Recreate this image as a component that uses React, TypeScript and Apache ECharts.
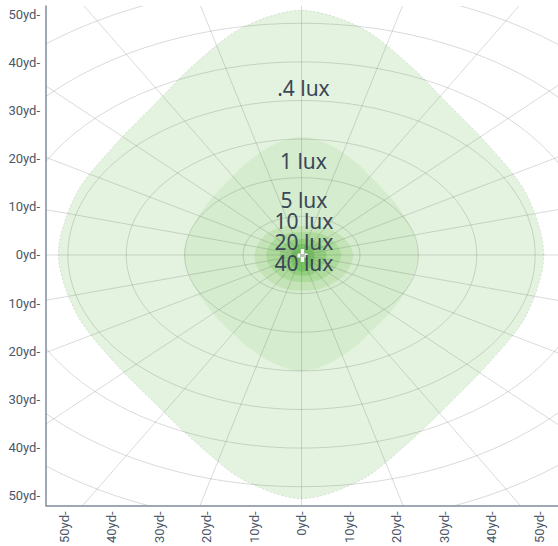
import React, { useEffect, useRef } from "react";
import * as echarts from "echarts";

// Axis ticks (yards)
const xTickValues = [-50, -40, -30, -20, -10, 0, 10, 20, 30, 40, 50];
const yTickValues = [-50, -40, -30, -20, -10, 0, 10, 20, 30, 40, 50];

// Illuminance levels
const levelNames = [".4 lux", "1 lux", "5 lux", "10 lux", "20 lux", "40 lux"];
const levelColors = ["#e4f3df", "#d5ecce", "#c4e4b8", "#addb9c", "#93cf7e", "#79c462"];

// Contour outlines: radius (yd) at each direction (degrees, counter-clockwise from +x)
const contourAngles = [0, 15, 30, 45, 60, 75, 90, 105, 120, 135, 150, 165, 180, 195, 210, 225, 240, 255, 270, 285, 300, 315, 330, 345];
const radiiPoint4Lux = [51, 49, 45.5, 44, 45.5, 48.8, 50.8, 48.8, 45.5, 44, 45.5, 49.1, 51.2, 48.8, 45.2, 43.6, 44.8, 48.2, 50.6, 48.4, 45, 43.8, 45.3, 48.9];
const radii1Lux = [24.6, 23.6, 22.4, 21.8, 22.4, 23.6, 24.5, 23.6, 22.4, 21.8, 22.4, 23.6, 24.8, 23.6, 22.4, 21.8, 22.2, 23.2, 24.1, 23.2, 22.2, 21.6, 22.3, 23.5];
const radii5Lux = [10.9, 10.1, 8.9, 7.9, 7.0, 6.3, 6.0, 6.3, 6.9, 7.6, 8.6, 9.4, 9.9, 9.7, 9.0, 8.4, 7.9, 7.6, 7.4, 7.6, 8.1, 8.7, 9.6, 10.4];
const radii10Lux = [8.4, 7.8, 6.9, 6.1, 5.4, 4.9, 4.7, 4.9, 5.3, 5.8, 6.5, 7.1, 7.4, 7.2, 6.7, 6.3, 5.9, 5.7, 5.6, 5.8, 6.2, 6.7, 7.3, 7.9];
const radii20Lux = [5.3, 5.0, 4.6, 4.1, 3.7, 3.4, 3.3, 3.4, 3.6, 3.9, 4.3, 4.5, 4.6, 4.6, 4.4, 4.3, 4.3, 4.3, 4.3, 4.4, 4.6, 4.7, 4.9, 5.1];
const radii40Lux = [2.7, 2.7, 2.6, 2.5, 2.4, 2.35, 2.3, 2.3, 2.25, 2.2, 2.15, 2.1, 2.1, 2.2, 2.4, 2.7, 3.0, 3.3, 3.5, 3.4, 3.2, 3.0, 2.9, 2.8];
const contourRadii = [radiiPoint4Lux, radii1Lux, radii5Lux, radii10Lux, radii20Lux, radii40Lux];

// Label blocks: which levels each block lists, and the block's centre (yd)
const labelGroups = [[0], [1], [2, 3, 4, 5]];
const labelGroupX = [0.4, 0.4, 0.5];
const labelGroupY = [34.6, 19.6, 4.8];

// Fixture position
const fixtureX = [0.2];
const fixtureY = [-0.1];

// Perspective reference grid
const ringStepX = 12.3;
const ringStepY = 8.02;
const ringCount = 9;
const spokeCount = 24;

const TEXT = "#3a4658";
const AXIS_TEXT = "#4c5869";
const AXIS_LINE = "#7f8c9b";

export default function App() {
  const ref = useRef<HTMLDivElement>(null);

  useEffect(() => {
    if (!ref.current) return;
    const chart = echarts.init(ref.current, undefined, { renderer: "svg" });

    const fmt = (v: number) => `${Math.abs(Math.round(v))}yd-`;

    const option: any = {
      animation: false,
      grid: { left: 46, right: 0, top: 6, bottom: 36, containLabel: false },
      xAxis: {
        type: "value",
        min: -53.8,
        max: 54,
        splitLine: { show: false },
        axisTick: { show: false },
        axisLine: { show: true, onZero: false, lineStyle: { color: AXIS_LINE, width: 1.5 } },
        axisLabel: {
          customValues: xTickValues,
          formatter: fmt,
          rotate: 90,
          margin: 6,
          color: AXIS_TEXT,
          fontSize: 13,
          fontFamily: "Roboto",
        },
      },
      yAxis: {
        type: "value",
        min: -52,
        max: 51.7,
        splitLine: { show: false },
        axisTick: { show: false },
        axisLine: { show: true, onZero: false, lineStyle: { color: AXIS_LINE, width: 1.5 } },
        axisLabel: {
          customValues: yTickValues,
          formatter: fmt,
          margin: 6,
          color: AXIS_TEXT,
          fontSize: 13,
          fontFamily: "Roboto",
        },
      },
      series: [
        {
          type: "custom",
          name: "contours",
          coordinateSystem: "cartesian2d",
          clip: true,
          z: 1,
          data: levelNames.map((_, i) => [i, 0]),
          renderItem: (_params: any, api: any) => {
            const i = api.value(0);
            const radii = contourRadii[i];
            const pts = contourAngles.map((a, j) => {
              const t = (a * Math.PI) / 180;
              return api.coord([radii[j] * Math.cos(t), radii[j] * Math.sin(t)]);
            });
            return {
              type: "polygon",
              shape: { points: pts, smooth: 0.3 },
              style: {
                fill: levelColors[i],
                stroke: i === 0 ? "rgba(150,175,150,0.55)" : "none",
                lineWidth: 0.6,
                lineDash: [2, 2],
              },
            };
          },
        },
        {
          type: "custom",
          name: "grid",
          coordinateSystem: "cartesian2d",
          clip: true,
          z: 2,
          silent: true,
          data: [[0, 0]],
          renderItem: (_params: any, api: any) => {
            const children: any[] = [];
            const stroke = "rgba(95,105,95,0.30)";
            for (let k = 1; k <= ringCount; k++) {
              const pts: number[][] = [];
              for (let d = 0; d <= 360; d += 3) {
                const t = (d * Math.PI) / 180;
                pts.push(api.coord([k * ringStepX * Math.cos(t), k * ringStepY * Math.sin(t)]));
              }
              children.push({ type: "polyline", shape: { points: pts }, style: { stroke, fill: "none", lineWidth: 0.8 } });
            }
            const p0 = api.coord([0, 0]);
            for (let s = 0; s < spokeCount; s++) {
              const t = (s * 2 * Math.PI) / spokeCount;
              const R = ringCount + 2;
              const p1 = api.coord([R * ringStepX * Math.cos(t), R * ringStepY * Math.sin(t)]);
              children.push({
                type: "line",
                shape: { x1: p0[0], y1: p0[1], x2: p1[0], y2: p1[1] },
                style: { stroke, lineWidth: 0.8 },
              });
            }
            return { type: "group", children };
          },
        },
        {
          type: "custom",
          name: "labels",
          coordinateSystem: "cartesian2d",
          clip: false,
          z: 4,
          silent: true,
          data: labelGroups.map((_, i) => [labelGroupX[i], labelGroupY[i]]),
          renderItem: (params: any, api: any) => {
            const p = api.coord([api.value(0), api.value(1)]);
            return {
              type: "text",
              x: p[0],
              y: p[1],
              style: {
                text: labelGroups[params.dataIndex].map((k) => levelNames[k]).join("\n"),
                fill: TEXT,
                fontSize: 21,
                lineHeight: 21,
                fontFamily: "Noto Sans",
                align: "center",
                verticalAlign: "middle",
              },
            };
          },
        },
        {
          type: "scatter",
          name: "fixture",
          z: 3,
          silent: true,
          symbol: "path://M4,0H8V4.5H12V8.5H8V13H4V8.5H0V4.5H4Z",
          symbolSize: [10, 13],
          itemStyle: { color: "#ffffff", opacity: 0.95 },
          data: fixtureX.map((x, i) => [x, fixtureY[i]]),
        },
        {
          type: "scatter",
          name: "fixtureCore",
          z: 3,
          silent: true,
          symbol: "rect",
          symbolSize: [5, 3],
          itemStyle: { color: "#a8b0a8" },
          data: fixtureX.map((x, i) => [x, fixtureY[i]]),
        },
      ],
    };

    chart.setOption(option);
    return () => chart.dispose();
  }, []);

  return (
    <div
      ref={ref}
      style={{ position: "fixed", left: 0, top: 0, width: 558, height: 546, background: "#ffffff" }}
    />
  );
}
